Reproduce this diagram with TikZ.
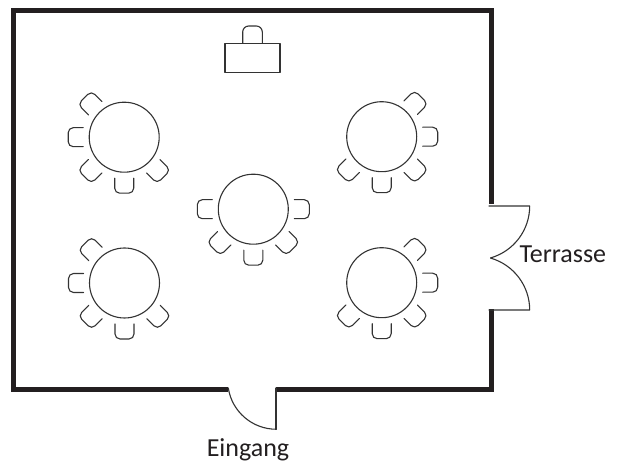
\documentclass[tikz,border=0pt]{standalone}
\usepackage{fontspec}
\setmainfont{Carlito}
\definecolor{wall}{HTML}{231F20}
\definecolor{ink}{HTML}{333333}
\tikzset{
  thinline/.style={draw=ink, line width=1.1pt, line cap=round, line join=round},
  wallline/.style={draw=wall, line width=5pt, line cap=butt, line join=miter},
  chair/.pic={\draw[thinline, rounded corners=5pt] (41,9.5) -- (56,9.5) -- (56,-9.5) -- (41,-9.5);},
  lbl/.style={font=\fontsize{26}{30}\selectfont, text=wall, inner sep=0pt}
}
\begin{document}
\begin{tikzpicture}[x=1pt,y=1pt]
\useasboundingbox (0,0) rectangle (627,464);
\fill[white] (0,0) rectangle (627,464);
% walls
\draw[wallline] (276,74.5) -- (491.5,74.5) -- (491.5,154.7);
\draw[wallline] (491.5,260) -- (491.5,453.5) -- (13.5,453.5) -- (13.5,74.5) -- (228.3,74.5);
% entrance door
\draw[thinline] (276,76) -- (276,34.7);
\draw[thinline] (228.3,76) arc[start angle=188.7, end angle=270, radius=48.6];
% terrace doors
\draw[thinline] (489,258) -- (529.7,258) arc[start angle=0, end angle=-74, radius=54];
\draw[thinline] (489,154) -- (529.7,154) arc[start angle=0, end angle=74, radius=54];
% lectern
\draw[thinline] (225,391.3) rectangle (280,420.7);
\draw[thinline, rounded corners=6pt] (242.7,420.7) -- (242.7,438) -- (262.3,438) -- (262.3,420.7);
% tables
\foreach \n/\cx/\cy/\angs in {tl/124.2/326.8/{135,180,225,270,315},
                              tr/381.7/327.3/{45,0,315,270,225},
                              m/253.3/254.8/{180,0,225,270,315},
                              bl/124.5/181/{135,180,225,270,315},
                              br/381.7/181.3/{45,0,315,270,225}}{
  \draw[thinline] (\cx,\cy) circle[radius=35];
  \foreach \a in \angs { \pic[rotate=\a] at (\cx,\cy) {chair}; }
}
% labels
\node[lbl, anchor=base west] (terrasse) at (519.3,201) {Terrasse};
\node[lbl, anchor=base] (eingang) at (248,7.3) {Eingang};
\end{tikzpicture}
\end{document}
